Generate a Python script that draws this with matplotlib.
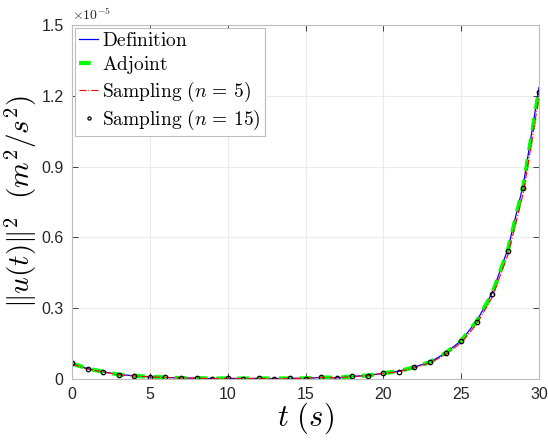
import numpy as np
import matplotlib
matplotlib.use('Agg')
import matplotlib.pyplot as plt

plt.rcParams['mathtext.fontset'] = 'cm'
plt.rcParams['font.family'] = ['Liberation Sans', 'DejaVu Sans']

# time samples [s]
t = np.arange(0, 31)

# ||u(t)||^2 in units of 1e-5 m^2/s^2
u_def = [0.065, 0.043, 0.030, 0.018, 0.013, 0.008, 0.006, 0.003, 0.003, 0.001,
         0.002, 0.001, 0.002, 0.001, 0.002, 0.002, 0.006, 0.004, 0.010, 0.014,
         0.024, 0.032, 0.050, 0.071, 0.109, 0.162, 0.245, 0.365, 0.550, 0.825,
         1.235]
u_adj = [0.065, 0.043, 0.030, 0.018, 0.013, 0.008, 0.006, 0.003, 0.003, 0.001,
         0.002, 0.001, 0.002, 0.001, 0.002, 0.002, 0.006, 0.004, 0.010, 0.014,
         0.024, 0.032, 0.050, 0.071, 0.109, 0.161, 0.244, 0.362, 0.545, 0.818,
         1.225]
u_s5 = [0.063, 0.041, 0.029, 0.017, 0.012, 0.008, 0.006, 0.003, 0.003, 0.001,
        0.002, 0.001, 0.002, 0.001, 0.002, 0.002, 0.006, 0.004, 0.010, 0.013,
        0.023, 0.030, 0.047, 0.067, 0.103, 0.153, 0.232, 0.347, 0.525, 0.790,
        1.195]
u_s15 = [0.065, 0.041, 0.030, 0.017, 0.013, 0.008, 0.006, 0.003, 0.003, 0.001,
         0.002, 0.001, 0.002, 0.001, 0.002, 0.001, 0.006, 0.004, 0.010, 0.013,
         0.023, 0.031, 0.050, 0.071, 0.109, 0.160, 0.242, 0.359, 0.542, 0.809,
         1.215]

yticks = [0, 0.3, 0.6, 0.9, 1.2, 1.5]
ytick_labels = ['0', '0.3', '0.6', '0.9', '1.2', '1.5']
xticks = [0, 5, 10, 15, 20, 25, 30]

fig = plt.figure(figsize=(5.48, 4.41), dpi=100)
ax = fig.add_axes([0.1315, 0.141, 0.852, 0.802])

ax.plot(t, u_def, color='blue', lw=0.9, label=r'$\mathrm{Definition}$')
ax.plot(t, u_adj, color='#00ff00', lw=3, ls=(0, (2.8, 2.2)), label=r'$\mathrm{Adjoint}$')
ax.plot(t, u_s5, color='red', lw=0.8, ls='-.', label=r'$\mathrm{Sampling}\ (n\,=\,5)$')
ax.plot(t, u_s15, ls='none', marker='o', ms=3.2, mfc='none', mec='black', mew=0.9,
        label=r'$\mathrm{Sampling}\ (n\,=\,15)$')

ax.set_xlim(0, 30)
ax.set_ylim(0, 1.5)
ax.set_xticks(xticks)
ax.set_yticks(yticks)
ax.set_yticklabels(ytick_labels)
ax.tick_params(direction='in', top=True, right=True, labelsize=11.5,
               colors='#262626', length=4, width=0.6, pad=6)
for s in ax.spines.values():
    s.set_color('#bdbdbd')
    s.set_linewidth(0.8)
ax.grid(True, color='#ebebeb', lw=0.8)
ax.set_axisbelow(True)

ax.text(0.0, 1.005, r'$\times 10^{-5}$', transform=ax.transAxes, fontsize=10,
        color='#262626', va='bottom', ha='left', family='DejaVu Sans')

ax.set_xlabel(r'$t\ (s)$', fontsize=22, labelpad=-1)
ax.set_ylabel(r'$\|u(t)\|^2\ \ (m^2/s^2)$', fontsize=21, labelpad=2)

leg = ax.legend(loc='upper left', fontsize=14, handlelength=1.0, handletextpad=0.2,
                borderaxespad=0.15, borderpad=0.2, labelspacing=0.2, fancybox=False,
                framealpha=1, edgecolor='#bdbdbd', markerscale=0.7)
leg.get_frame().set_linewidth(0.8)

plt.savefig('out.png', dpi=100)
